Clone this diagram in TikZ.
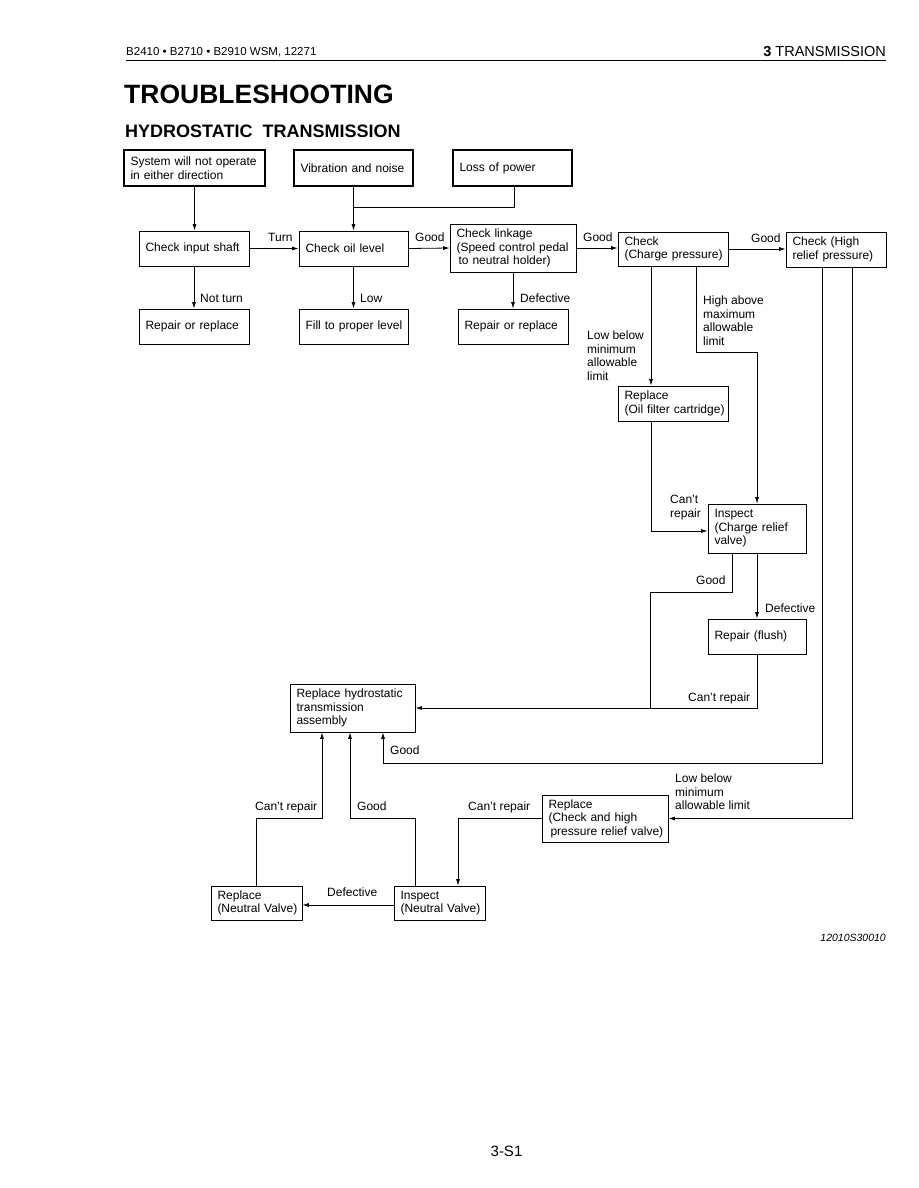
\documentclass[tikz,border=0pt]{standalone}
\usepackage{fontspec}
\setmainfont{Liberation Sans}
\usetikzlibrary{arrows.meta}
\newcommand\bxfont{\fontsize{12}{13.5}\selectfont\hyphenpenalty=10000\exhyphenpenalty=10000 \hbadness=10000 \hfuzz=20pt }
\tikzset{
  box/.style={draw, line width=0.8pt, inner xsep=6.5pt, inner ysep=2pt, align=left, font=\bxfont},
  thickbox/.style={box, line width=2.4pt},
  lbl/.style={font=\bxfont, inner sep=0pt, align=left},
  conn/.style={line width=0.8pt},
  arr/.style={conn, -{Latex[length=6.5pt,width=4pt]}},
}
\begin{document}
\begin{tikzpicture}[x=1pt,y=-1pt]
\fill[white] (0,0) rectangle (918,1188);
\useasboundingbox (0,0) rectangle (918,1188);

% header
\node[inner sep=0pt, anchor=base west, font=\fontsize{11.5}{13}\selectfont] (hdl) at (126,56) {B2410 • B2710 • B2910 WSM, 12271};
\node[inner sep=0pt, anchor=base east, font=\fontsize{14.5}{16}\selectfont] (hdr) at (886,57) {\textbf{3} TRANSMISSION};
\draw[line width=1.4pt] (126,60.5) -- (886,60.5);
\node[inner sep=0pt, anchor=base west, font=\fontsize{26.5}{30}\selectfont\bfseries] (title) at (124,104) {TROUBLESHOOTING};
\node[inner sep=0pt, anchor=base west, font=\fontsize{18}{20}\selectfont\bfseries] (sub) at (125,137.5) {HYDROSTATIC\ \ TRANSMISSION};

% boxes
\node[thickbox, text width=128pt, minimum height=36pt] (sys) at (194.5,168) {\mbox{System will not operate}\\in either direction};
\node[thickbox, text width=106pt, minimum height=36pt] (vib) at (353.5,168) {\mbox{Vibration and noise}};
\node[thickbox, text width=106pt, minimum height=36pt] (loss) at (512.5,168) {Loss of power};

\node[box, text width=97pt, minimum height=35pt] (cis) at (194,248.5) {\mbox{Check input shaft}};
\node[box, text width=96pt, minimum height=35pt] (col) at (353.5,248.5) {Check oil level};
\node[box, text width=113pt, minimum height=48pt] (link) at (513,248) {Check linkage\\\mbox{(Speed control pedal}\\\mbox{\hspace*{2pt}to neutral holder)}};

\node[box, text width=97pt, minimum height=35pt] (rr1) at (194,326.5) {\mbox{Repair or replace}};
\node[box, text width=96pt, minimum height=35pt] (fill) at (353.5,326.5) {\mbox{Fill to proper level}};
\node[box, text width=97pt, minimum height=35pt] (rr2) at (513,326.5) {\mbox{Repair or replace}};

\node[box, text width=97pt, minimum height=34pt] (chg) at (673,249) {Check\\\mbox{(Charge pressure)}};
\node[box, text width=87pt, minimum height=35pt] (hrp) at (836,249.5) {Check (High\\\mbox{relief pressure)}};
\node[box, text width=97pt, minimum height=35pt] (rof) at (673,403.5) {Replace\\\mbox{(Oil filter cartridge)}};
\node[box, text width=85pt, minimum height=49pt] (icr) at (757,528.5) {Inspect\\\mbox{(Charge relief}\\valve)};
\node[box, text width=85pt, minimum height=35pt] (rfl) at (757,636.5) {Repair (flush)};
\node[box, text width=112pt, minimum height=48pt] (rht) at (352.5,708) {\mbox{Replace hydrostatic}\\transmission\\assembly};
\node[box, text width=113pt, minimum height=47pt] (rchk) at (605,818.5) {Replace\\\mbox{(Check and high}\\\mbox{\hspace*{2pt}pressure relief valve)}};
\node[box, text width=78pt, minimum height=34pt] (rnv) at (256.5,903) {Replace\\\mbox{(Neutral Valve)}};
\node[box, text width=78pt, minimum height=34pt] (inv) at (439.5,903) {Inspect\\\mbox{(Neutral Valve)}};

% junction coordinates
\coordinate (j1) at (353.5,207);
\coordinate (j2) at (650,708);
\coordinate (g1) at (383,763);
\coordinate (c1) at (322,818);
\coordinate (c2) at (350,818);

% connectors
\draw[arr] (sys.south) -- (sys.south |- cis.north);
\draw[arr] (vib.south) -- (vib.south |- col.north);
\draw[conn] ([xshift=1.5pt]loss.south) |- (j1);
\draw[arr] (cis.east) -- (col.west);
\draw[arr] (col.east) -- (link.west);
\draw[arr] (cis.south) -- (rr1.north);
\draw[arr] (col.south) -- (fill.north);
\draw[arr] (link.south) -- (rr2.north);
\draw[arr] (link.east) -- (chg.west |- link.east);
\draw[arr] (chg.east) -- (hrp.west |- chg.east);
\draw[arr] ([xshift=-22pt]chg.south) -- ([xshift=-22pt]rof.north);
\draw[arr] ([xshift=23pt]chg.south) -- ++(0,86) -| (icr.north);
\draw[arr] ([xshift=-22pt]rof.south) |- ([yshift=-2.5pt]icr.west);
\draw[arr] (icr.south) -- (rfl.north);
\draw[conn] ([xshift=-25pt]icr.south) |- (650,592) -- (j2);
\draw[arr] (rfl.south) |- (rht.east);
\draw[arr] ([xshift=-14pt]hrp.south) |- (g1) -- (g1 |- rht.south);
\draw[arr] ([xshift=16pt]hrp.south) |- (rchk.east);
\draw[arr] (rchk.west) -| ([xshift=18.5pt]inv.north);
\draw[arr] (inv.west |- 0,905) -- (rnv.east |- 0,905);
\draw[arr] (rnv.north) |- (c1) -- (c1 |- rht.south);
\draw[arr] ([xshift=-24.5pt]inv.north) |- (c2) -- (c2 |- rht.south);

% labels
\node[lbl, anchor=base west] (lturn) at (268,241.5) {Turn};
\node[lbl, anchor=base west] (lgood1) at (415,241.5) {Good};
\node[lbl, anchor=base west] (lnot) at (200,302.5) {Not turn};
\node[lbl, anchor=base west] (llow) at (360,302.5) {Low};
\node[lbl, anchor=base west] (ldef1) at (520,302.5) {Defective};
\node[lbl, anchor=base west] (lgood2) at (583,241.5) {Good};
\node[lbl, anchor=base west] (lgood3) at (751,242.5) {Good};
\node[lbl, anchor=north west] (llowb) at (587,331) {Low below\\minimum\\allowable\\limit};
\node[lbl, anchor=north west] (lhigh) at (703,296) {High above\\maximum\\allowable\\limit};
\node[lbl, anchor=north west] (lcant1) at (670,495) {Can't\\repair};
\node[lbl, anchor=base west] (lgood4) at (696,584.5) {Good};
\node[lbl, anchor=base west] (ldef2) at (765,612.5) {Defective};
\node[lbl, anchor=base west] (lcant2) at (688,701.5) {Can't repair};
\node[lbl, anchor=base west] (lgood5) at (390,754.5) {Good};
\node[lbl, anchor=north west] (llowb2) at (675,774) {Low below\\minimum\\allowable limit};
\node[lbl, anchor=base west] (lcant3) at (468,810.5) {Can't repair};
\node[lbl, anchor=base west] (lcant4) at (255,810.5) {Can't repair};
\node[lbl, anchor=base west] (lgood6) at (357,810.5) {Good};
\node[lbl, anchor=base west] (ldef3) at (327,896.5) {Defective};

% footer
\node[inner sep=0pt, anchor=base east, font=\fontsize{10.5}{12}\selectfont\itshape] (code) at (886,941) {12010S30010};
\node[inner sep=0pt, anchor=base, font=\fontsize{15}{17}\selectfont] (page) at (506.5,1156) {3-S1};
\end{tikzpicture}
\end{document}
